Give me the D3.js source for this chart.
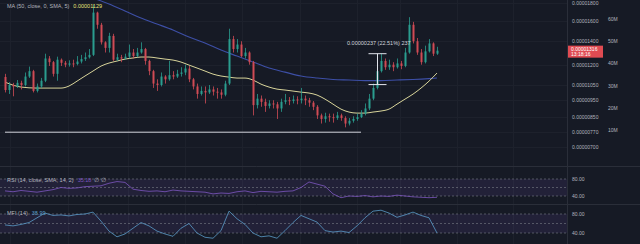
<!DOCTYPE html>
<html>
<head>
<meta charset="utf-8">
<script src="https://d3js.org/d3.v7.min.js"></script>
<style>
  body { margin: 0; background: #161a25; }
  svg { display: block; font-family: "Liberation Sans", Arial, sans-serif; }
</style>
</head>
<body>
<svg width="640" height="244"></svg>
<script>
// prices in units of 1e-8
var opens = [1107,1016,1050,1040,1065,1050,1110,1150,1010,1040,1080,1250,1220,1130,1240,1215,1200,1210,1205,1225,
  1245,1260,1280,1690,1560,1390,1340,1450,1240,1260,1250,1265,1300,1270,1300,1330,1230,1150,1060,1050,
  1110,1090,1120,1110,1130,1140,1170,1090,1040,990,1010,1000,1020,1005,1000,985,1060,1420,1330,1370,
  1270,1300,1220,920,960,940,915,930,925,900,940,950,945,955,950,960,950,935,910,860,
  840,855,850,845,860,845,815,830,840,850,870,900,960,1030,1150,1230,1180,1200,1180,1210,
  1190,1300,1560,1400,1300,1220,1310,1380,1290];
var closes = [1016,1050,1040,1065,1050,1110,1150,1010,1040,1080,1250,1220,1130,1240,1215,1200,1210,1205,1225,1245,
  1260,1280,1690,1560,1390,1340,1450,1240,1260,1250,1265,1300,1270,1300,1330,1230,1150,1060,1050,1110,
  1090,1120,1110,1130,1140,1170,1090,1040,990,1010,1000,1020,1005,1000,985,1060,1420,1330,1370,1270,
  1300,1220,920,960,940,915,930,925,900,940,950,945,955,950,960,950,935,910,860,840,
  855,850,845,860,845,815,830,840,850,870,900,960,1030,1150,1230,1180,1200,1180,1210,1190,
  1300,1560,1400,1300,1220,1310,1380,1290,1316];
var highs = [1130,1070,1065,1085,1080,1140,1185,1160,1060,1100,1290,1270,1230,1265,1250,1230,1235,1240,1270,1280,
  1300,1330,1780,1700,1580,1400,1480,1470,1290,1280,1290,1370,1330,1340,1390,1340,1240,1160,1090,1140,
  1120,1230,1150,1160,1180,1200,1190,1100,1060,1040,1040,1050,1040,1030,1020,1080,1520,1450,1420,1400,
  1340,1310,1230,990,980,960,950,950,940,960,990,970,980,975,1030,980,965,945,920,870,
  875,870,870,880,870,855,845,855,870,890,930,990,1060,1200,1290,1250,1240,1220,1250,1230,
  1340,1640,1590,1430,1330,1360,1420,1390,1350];
var lows = [1000,990,975,1030,1020,1040,1100,1000,1000,1030,1070,1190,1110,1080,1190,1180,1185,1180,1195,1210,
  1230,1250,1270,1520,1370,1300,1300,1230,1230,1220,1240,1250,1250,1260,1290,1200,1120,1030,1010,1040,
  1060,1080,1090,1100,1110,1120,1070,1020,960,980,930,990,980,960,960,975,1050,1300,1300,1260,
  1250,1200,860,900,910,880,900,900,840,880,925,920,930,925,930,920,910,890,840,815,
  820,825,820,835,830,795,805,820,830,845,860,890,950,1020,1140,1160,1160,1150,1170,1165,
  1180,1290,1380,1280,1200,1210,1300,1270,1280];

// moving averages, read at candle indices
var ma50Idx = [0,4,8,14,16,18,20,22,24,26,28,30,32,34,36,38,40,42,44,46,48,50,52,54,56,58,60,62,64,66,68,70,72,74,76,78,80,82,84,86,88,90,92,94,96,98,100,102,104,106,108];
var ma50 = [1070,1036,1029,1029,1043,1077,1114,1151,1189,1213,1229,1245,1254,1262,1262,1254,1245,1237,1221,1197,1174,1151,1128,1114,1106,1099,1099,1085,1056,1036,1022,1016,1009,1002,996,983,957,926,896,879,873,873,879,885,896,926,957,989,1029,1077,1136];
var ma200Idx = [22,26,30,34,38,42,46,50,54,58,62,66,70,74,78,82,86,90,94,98,102,106,108];
var ma200 = [1860,1788,1708,1631,1568,1507,1439,1384,1321,1270,1221,1174,1143,1114,1099,1089,1085,1081,1081,1085,1089,1095,1099];

// oscillators, read every 2 candles
var oscIdx = d3.range(0, 109, 2);
var rsi = [52,50,53,51,49,52,55,60,58,59,62,63,64,70,74,72,56,53,51,52,50,54,52,51,50,49,45,47,46,50,52,48,51,50,49,51,
  52,60,73,68,63,45,36,40,39,41,38,40,39,42,40,38,37,36,37,38,42];
var mfi = [57,55,58,62,72,82,77,78,76,79,80,84,65,44,32,38,50,62,55,44,38,33,50,60,40,31,29,45,86,70,58,40,32,34,29,45,
  62,77,70,63,45,42,44,41,55,72,86,88,82,73,78,84,77,72,40];

var priceTicks = [1800,1600,1400,1200,1050,950,850,770,700];
var volTicks = [60,50,40,30,20,10];
var oscTicks = [80,40];
var lastPrice = 1316, lastTimer = "13:18:16";
var hLinePrice = 770;
var measLow = 1053, measHigh = 1290, measIdx = 93;

var svg = d3.select("svg");
var W = 640, H = 244;
var plotRight = 567;

svg.append("rect").attr("width", W).attr("height", H).attr("fill", "#161a25");

var x = d3.scaleLinear().domain([0, 108]).range([5, 437]);
var y = d3.scaleLog().domain([700, 1800]).range([146.7, 3]);
var yVol = d3.scaleLinear().domain([10, 60]).range([130, 19]);
var yRsi = d3.scaleLinear().domain([40, 80]).range([196, 179]);
var yMfi = d3.scaleLinear().domain([40, 80]).range([233, 214]);

var fmt = function(v) { return (v * 1e-8).toFixed(8); };

// grid
var grid = svg.append("g").attr("stroke", "#1d212c").attr("stroke-width", 1);
[10, 68, 128, 185, 242, 300, 357, 400, 457, 513].forEach(function(gx) {
  grid.append("line").attr("x1", gx + 0.5).attr("x2", gx + 0.5).attr("y1", 0).attr("y2", H);
});
priceTicks.forEach(function(t) {
  grid.append("line").attr("x1", 0).attr("x2", plotRight).attr("y1", Math.round(y(t)) + 0.5).attr("y2", Math.round(y(t)) + 0.5);
});

// pane separators
svg.append("line").attr("x1", 0).attr("x2", W).attr("y1", 166.5).attr("y2", 166.5).attr("stroke", "#2a2e39");
svg.append("line").attr("x1", 0).attr("x2", W).attr("y1", 204.5).attr("y2", 204.5).attr("stroke", "#2a2e39");
svg.append("line").attr("x1", plotRight + 0.5).attr("x2", plotRight + 0.5).attr("y1", 0).attr("y2", H).attr("stroke", "#2a2e39");

// horizontal support line
svg.append("line").attr("x1", 5).attr("x2", 361)
  .attr("y1", y(hLinePrice)).attr("y2", y(hLinePrice))
  .attr("stroke", "#d1d4dc").attr("stroke-width", 1);

// MA lines
var maLine = d3.line().curve(d3.curveMonotoneX);
svg.append("path")
  .attr("d", maLine(ma200Idx.map(function(d, i) { return [x(d), y(ma200[i])]; })))
  .attr("fill", "none").attr("stroke", "#3d4fa6").attr("stroke-width", 1.1);
svg.append("path")
  .attr("d", maLine(ma50Idx.map(function(d, i) { return [x(d), y(ma50[i])]; })))
  .attr("fill", "none").attr("stroke", "#d8d49a").attr("stroke-width", 1);

// candles
var cg = svg.append("g");
closes.forEach(function(c, i) {
  var o = opens[i], up = c >= o;
  var col = up ? "#2a9d8f" : "#d04b55";
  var cx = Math.round(x(i)) + 0.5;
  cg.append("line").attr("x1", cx).attr("x2", cx).attr("y1", y(highs[i])).attr("y2", y(lows[i]))
    .attr("stroke", col).attr("stroke-width", 0.8);
  var top = y(Math.max(o, c)), bot = y(Math.min(o, c));
  cg.append("rect").attr("x", cx - 1).attr("width", 2)
    .attr("y", top).attr("height", Math.max(1, bot - top)).attr("fill", col);
});

// measurement tool
var mx = Math.round(x(measIdx)) + 0.5;
var mg = svg.append("g").attr("stroke", "#e0e3eb").attr("stroke-width", 1);
mg.append("line").attr("x1", mx).attr("x2", mx).attr("y1", y(measHigh)).attr("y2", y(measLow));
mg.append("line").attr("x1", mx - 9).attr("x2", mx + 9).attr("y1", y(measHigh)).attr("y2", y(measHigh));
mg.append("line").attr("x1", mx - 9).attr("x2", mx + 9).attr("y1", y(measLow)).attr("y2", y(measLow));
svg.append("text").attr("x", 347).attr("y", 45).attr("font-size", 5.5).attr("fill", "#d1d4dc")
  .text(fmt(measHigh - measLow) + " (" + ((measHigh - measLow) / measLow * 100).toFixed(2) + "%) " + (measHigh - measLow));

// legend
var lg = svg.append("text").attr("x", 7).attr("y", 8).attr("font-size", 5.5).attr("fill", "#b2b5be");
lg.append("tspan").text("MA (50, close, 0, SMA, 5)");
lg.append("tspan").attr("dx", 4).attr("fill", "#e8e27a").text("0.00001129");

// price axis
var ax = svg.append("g").attr("font-size", 5).attr("fill", "#b2b5be");
priceTicks.forEach(function(t) {
  ax.append("text").attr("x", 572).attr("y", y(t) + 2).text(fmt(t));
});
volTicks.forEach(function(t) {
  ax.append("text").attr("x", 608).attr("y", yVol(t) + 2).text(t + "M");
});

// last price label
var ly = y(lastPrice);
svg.append("rect").attr("x", 568).attr("y", ly - 5).attr("width", 35).attr("height", 12).attr("fill", "#e04b52");
svg.append("text").attr("x", 571).attr("y", ly + 0.5).attr("font-size", 5).attr("fill", "#fff").text(fmt(lastPrice));
svg.append("text").attr("x", 571).attr("y", ly + 5.5).attr("font-size", 5).attr("fill", "#fff").text(lastTimer);

// oscillator panes
function osc(vals, ys, color, label, value, extra, labelY) {
  var g = svg.append("g");
  g.append("rect").attr("x", 0).attr("width", plotRight).attr("y", ys(80)).attr("height", ys(40) - ys(80))
    .attr("fill", "#7e57c2").attr("fill-opacity", 0.12);
  [80, 60, 40].forEach(function(t) {
    g.append("line").attr("x1", 0).attr("x2", plotRight).attr("y1", ys(t)).attr("y2", ys(t))
      .attr("stroke", "#787b86").attr("stroke-opacity", 0.6).attr("stroke-dasharray", "2,2");
  });
  g.append("path").attr("d", d3.line()(oscIdx.map(function(d, i) { return [x(d), ys(vals[i])]; })))
    .attr("fill", "none").attr("stroke", color).attr("stroke-width", 0.8);
  oscTicks.forEach(function(t) {
    g.append("text").attr("x", 572).attr("y", ys(t) + 2).attr("font-size", 5).attr("fill", "#b2b5be").text(t.toFixed(2));
  });
  var tx = g.append("text").attr("x", 7).attr("y", labelY).attr("font-size", 5.5).attr("fill", "#b2b5be");
  tx.append("tspan").text(label);
  tx.append("tspan").attr("dx", 4).attr("fill", color).text(value);
  if (extra) tx.append("tspan").attr("dx", 3).attr("fill", "#b2b5be").text(extra);
}
osc(rsi, yRsi, "#7e57c2", "RSI (14, close, SMA, 14, 2)", "35.18", "\u2205  \u2205", 182);
osc(mfi, yMfi, "#5b9cc9", "MFI (14)", "38.99", null, 215);
</script>
</body>
</html>
